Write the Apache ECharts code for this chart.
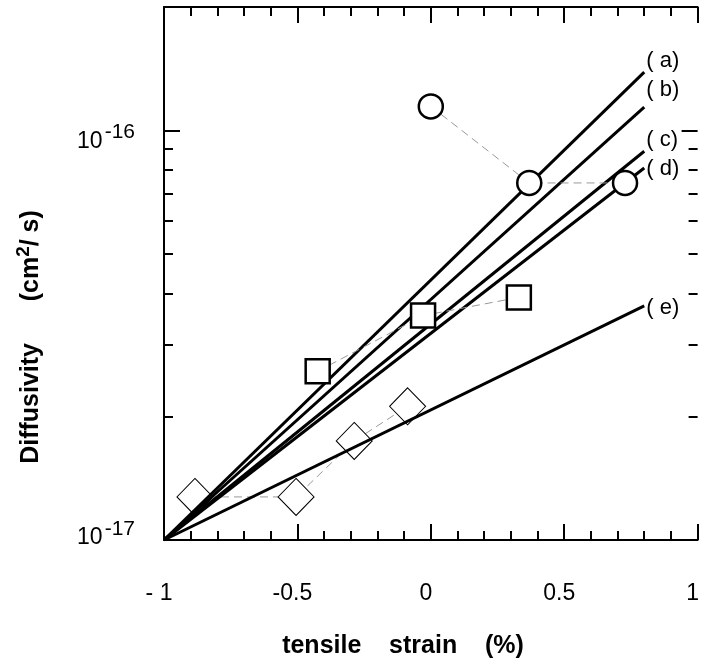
<!DOCTYPE html>
<html>
<head>
<meta charset="utf-8">
<script src="https://cdn.jsdelivr.net/npm/echarts@6/dist/echarts.min.js"></script>
<style>
html,body{margin:0;padding:0;background:#fff;}
#chart{width:702px;height:666px;}
</style>
</head>
<body>
<div id="chart"></div>
<script>
// ---- data ----
const lineNames = ['( a)', '( b)', '( c)', '( d)', '( e)'];
const lineStartX = -1;
const lineStartY = 1e-17;
const lineEndX = 0.8;
const lineEndY = [1.387e-16, 1.14e-16, 8.89e-17, 8.09e-17, 3.73e-17];

const circleX = [0, 0.369, 0.728];
const circleY = [1.144e-16, 7.44e-17, 7.44e-17];

const squareX = [-0.424, -0.029, 0.330];
const squareY = [2.58e-17, 3.53e-17, 3.91e-17];

const diamondX = [-0.884, -0.505, -0.287, -0.087];
const diamondY = [1.274e-17, 1.274e-17, 1.745e-17, 2.12e-17];

const xMin = -1, xMax = 1, xInterval = 0.5;
const yMin = 1e-17, yMax = 2e-16;
const yMajorTicks = [1e-17, 1e-16];
const yMinorTicks = [2e-17, 3e-17, 4e-17, 5e-17, 6e-17, 7e-17, 8e-17, 9e-17];
const xTitle = 'tensile    strain    (%)';
const yTitle = '{n|Diffusivity      (cm}{sup|2}{n|/ s)}';

// ---- styles ----
const FONT = '"Liberation Sans", Arial, sans-serif';
const labelOffsets = [[0, -11], [0, -17], [0, -11], [0, 1], [0, 2]];

const zip = (xs, ys) => xs.map((x, i) => [x, ys[i]]);

const chart = echarts.init(document.getElementById('chart'), null, { renderer: 'canvas' });

function xAxisCfg(pos, showLabel) {
  return {
    type: 'value', position: pos, min: xMin, max: xMax, interval: xInterval,
    axisLine: { show: true, onZero: false, lineStyle: { color: '#000', width: 2 } },
    axisTick: { show: true, inside: true, length: 16, lineStyle: { color: '#000', width: 2 } },
    minorTick: { show: true, splitNumber: 5, length: 9, lineStyle: { color: '#000', width: 2 } },
    splitLine: { show: false },
    axisLabel: showLabel ? {
      show: true, margin: 42, color: '#000', fontSize: 23, fontFamily: FONT,
      padding: [0, 10, 0, 0],
      formatter: v => (v === -1 ? '- 1' : String(v))
    } : { show: false }
  };
}

function yAxisCfg(pos, ticks, len, showLine, showLabel) {
  return {
    type: 'log', logBase: 10, position: pos, min: yMin, max: yMax,
    axisLine: { show: showLine, onZero: false, lineStyle: { color: '#000', width: 2 } },
    axisTick: { show: true, inside: true, length: len, customValues: ticks, lineStyle: { color: '#000', width: 2 } },
    minorTick: { show: false },
    splitLine: { show: false },
    axisLabel: showLabel ? {
      show: true, margin: 29, color: '#000', fontFamily: FONT,
      customValues: yMajorTicks,
      formatter: v => {
        const e = Math.round(Math.log10(v));
        return '{b' + (-e) + '|10}{s' + (-e) + '|' + e + '}';
      },
      rich: {
        b16: { fontSize: 23, fontFamily: FONT, color: '#000', verticalAlign: 'bottom', padding: [22, 0, 0, 0] },
        s16: { fontSize: 21, fontFamily: FONT, color: '#000', verticalAlign: 'bottom', padding: [0, 0, 10, 2] },
        b17: { fontSize: 23, fontFamily: FONT, color: '#000', verticalAlign: 'bottom', padding: [0, 0, 12, 0] },
        s17: { fontSize: 21, fontFamily: FONT, color: '#000', verticalAlign: 'bottom', padding: [0, 0, 22, 2] }
      }
    } : { show: false }
  };
}

const series = [];

// diamonds (drawn beneath the fit lines)
series.push({
  type: 'line', name: 'diamond', data: zip(diamondX, diamondY),
  symbol: 'diamond', symbolSize: [36, 37], showSymbol: true,
  lineStyle: { color: '#999', width: 1, type: [8, 5] },
  itemStyle: { color: '#fff', borderColor: '#000', borderWidth: 1 },
  z: 2, animation: false
});

// fit lines
lineNames.forEach((nm, i) => {
  series.push({
    type: 'line', name: nm,
    data: [[lineStartX, lineStartY], [lineEndX, lineEndY[i]]],
    symbol: 'none', showSymbol: false,
    lineStyle: { color: '#000', width: 3 },
    endLabel: {
      show: true, formatter: nm, distance: 2, offset: labelOffsets[i],
      color: '#000', fontSize: 22, fontFamily: FONT
    },
    z: 3, animation: false
  });
});

// squares
series.push({
  type: 'line', name: 'square', data: zip(squareX, squareY),
  symbol: 'rect', symbolSize: 24, showSymbol: true,
  lineStyle: { color: '#999', width: 1, type: [8, 5] },
  itemStyle: { color: '#fff', borderColor: '#000', borderWidth: 2.5 },
  z: 4, animation: false
});

// circles
series.push({
  type: 'line', name: 'circle', data: zip(circleX, circleY),
  symbol: 'circle', symbolSize: 24, showSymbol: true,
  lineStyle: { color: '#999', width: 1, type: [8, 5] },
  itemStyle: { color: '#fff', borderColor: '#000', borderWidth: 2.5 },
  z: 4, animation: false
});

chart.setOption({
  animation: false,
  backgroundColor: '#fff',
  grid: { left: 164, right: 1, top: 7, bottom: 126, containLabel: false },
  xAxis: [xAxisCfg('bottom', true), xAxisCfg('top', false)],
  yAxis: [
    yAxisCfg('left', yMajorTicks, 16, true, true),
    yAxisCfg('left', yMinorTicks, 9, false, false),
    yAxisCfg('right', yMajorTicks, 16, false, false),
    yAxisCfg('right', yMinorTicks, 9, false, false)
  ],
  series: series,
  graphic: [
    {
      type: 'text', x: 29, y: 337, rotation: Math.PI / 2,
      style: {
        text: yTitle,
        textAlign: 'center', textVerticalAlign: 'middle', fill: '#000',
        rich: {
          n: { fontSize: 25, fontWeight: 'bold', fontFamily: FONT, fill: '#000', color: '#000', verticalAlign: 'bottom' },
          sup: { fontSize: 19, fontWeight: 'bold', fontFamily: FONT, fill: '#000', color: '#000', verticalAlign: 'bottom', padding: [0, 0, 10, 0] }
        }
      }
    },
    {
      type: 'text', x: 403, y: 646,
      style: {
        text: xTitle, textAlign: 'center', textVerticalAlign: 'middle', fill: '#000',
        fontSize: 25, fontWeight: 'bold', fontFamily: FONT
      }
    }
  ]
});
</script>
</body>
</html>
